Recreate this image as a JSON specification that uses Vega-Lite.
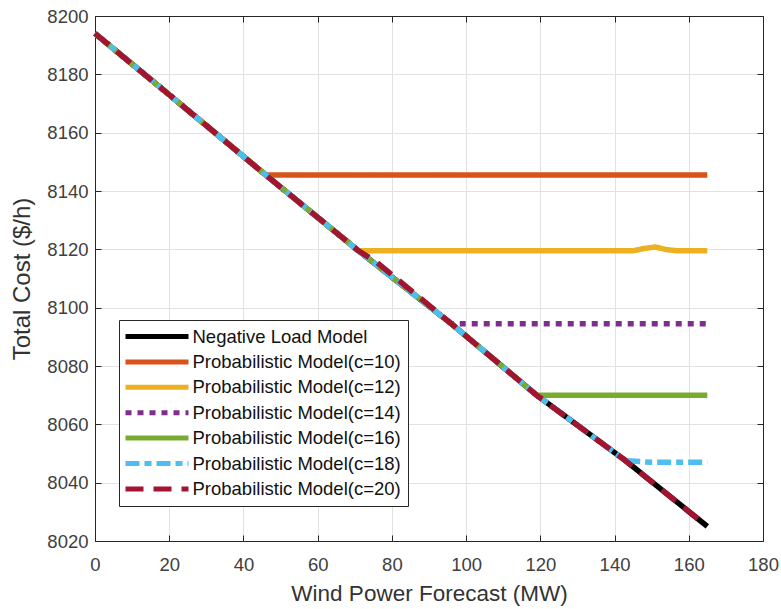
{
  "$schema": "https://vega.github.io/schema/vega-lite/v6.json",
  "width": 668,
  "height": 525,
  "autosize": {"type": "none"},
  "padding": {"left": 95, "top": 16, "right": 18, "bottom": 68},
  "background": "white",
  "config": {
    "font": "Liberation Sans",
    "view": {"stroke": "#262626", "strokeWidth": 1},
    "axis": {
      "labelFont": "Liberation Sans",
      "titleFont": "Liberation Sans",
      "labelFontSize": 18.5,
      "titleFontSize": 22.5,
      "titleFontWeight": "normal",
      "labelColor": "#404040",
      "titleColor": "#333333",
      "domainColor": "#262626",
      "tickColor": "#262626",
      "gridColor": "#e2e2e2",
      "labelFlush": false,
      "labelOverlap": false
    },
    "legend": {
      "labelFont": "Liberation Sans",
      "labelFontSize": 18.5,
      "labelColor": "#111111"
    }
  },
  "datasets": {
    "lines": [
      {"series": "Negative Load Model", "x": 0, "y": 8194},
      {"series": "Negative Load Model", "x": 20, "y": 8173},
      {"series": "Negative Load Model", "x": 46, "y": 8145.5},
      {"series": "Negative Load Model", "x": 71, "y": 8119.5},
      {"series": "Negative Load Model", "x": 96, "y": 8094.5},
      {"series": "Negative Load Model", "x": 119, "y": 8070},
      {"series": "Negative Load Model", "x": 143, "y": 8047.5},
      {"series": "Negative Load Model", "x": 165, "y": 8025},

      {"series": "Probabilistic Model(c=10)", "x": 0, "y": 8194},
      {"series": "Probabilistic Model(c=10)", "x": 20, "y": 8173},
      {"series": "Probabilistic Model(c=10)", "x": 46, "y": 8145.5},
      {"series": "Probabilistic Model(c=10)", "x": 165, "y": 8145.5},

      {"series": "Probabilistic Model(c=12)", "x": 0, "y": 8194},
      {"series": "Probabilistic Model(c=12)", "x": 20, "y": 8173},
      {"series": "Probabilistic Model(c=12)", "x": 46, "y": 8145.5},
      {"series": "Probabilistic Model(c=12)", "x": 71, "y": 8119.5},
      {"series": "Probabilistic Model(c=12)", "x": 145, "y": 8119.5},
      {"series": "Probabilistic Model(c=12)", "x": 148, "y": 8120.3},
      {"series": "Probabilistic Model(c=12)", "x": 151, "y": 8120.8},
      {"series": "Probabilistic Model(c=12)", "x": 154, "y": 8119.9},
      {"series": "Probabilistic Model(c=12)", "x": 157, "y": 8119.5},
      {"series": "Probabilistic Model(c=12)", "x": 165, "y": 8119.5},

      {"series": "Probabilistic Model(c=14)", "x": 0, "y": 8194},
      {"series": "Probabilistic Model(c=14)", "x": 20, "y": 8173},
      {"series": "Probabilistic Model(c=14)", "x": 46, "y": 8145.5},
      {"series": "Probabilistic Model(c=14)", "x": 71, "y": 8119.5},
      {"series": "Probabilistic Model(c=14)", "x": 96, "y": 8094.5},
      {"series": "Probabilistic Model(c=14)", "x": 165, "y": 8094.5},

      {"series": "Probabilistic Model(c=16)", "x": 0, "y": 8194},
      {"series": "Probabilistic Model(c=16)", "x": 20, "y": 8173},
      {"series": "Probabilistic Model(c=16)", "x": 46, "y": 8145.5},
      {"series": "Probabilistic Model(c=16)", "x": 71, "y": 8119.5},
      {"series": "Probabilistic Model(c=16)", "x": 96, "y": 8094.5},
      {"series": "Probabilistic Model(c=16)", "x": 119, "y": 8070},
      {"series": "Probabilistic Model(c=16)", "x": 165, "y": 8070},

      {"series": "Probabilistic Model(c=18)", "x": 0, "y": 8194},
      {"series": "Probabilistic Model(c=18)", "x": 20, "y": 8173},
      {"series": "Probabilistic Model(c=18)", "x": 46, "y": 8145.5},
      {"series": "Probabilistic Model(c=18)", "x": 71, "y": 8119.5},
      {"series": "Probabilistic Model(c=18)", "x": 96, "y": 8094.5},
      {"series": "Probabilistic Model(c=18)", "x": 119, "y": 8070},
      {"series": "Probabilistic Model(c=18)", "x": 143, "y": 8047.5},
      {"series": "Probabilistic Model(c=18)", "x": 150, "y": 8047},
      {"series": "Probabilistic Model(c=18)", "x": 165, "y": 8047},

      {"series": "Probabilistic Model(c=20)", "x": 0, "y": 8194},
      {"series": "Probabilistic Model(c=20)", "x": 20, "y": 8173},
      {"series": "Probabilistic Model(c=20)", "x": 46, "y": 8145.5},
      {"series": "Probabilistic Model(c=20)", "x": 71, "y": 8119.5},
      {"series": "Probabilistic Model(c=20)", "x": 76, "y": 8115.5},
      {"series": "Probabilistic Model(c=20)", "x": 96, "y": 8094.5},
      {"series": "Probabilistic Model(c=20)", "x": 119, "y": 8070},
      {"series": "Probabilistic Model(c=20)", "x": 143, "y": 8047.5},
      {"series": "Probabilistic Model(c=20)", "x": 163, "y": 8027}
    ],
    "frame": [{"x": 0, "y": 8020}]
  },
  "layer": [
    {
      "data": {"name": "lines"},
      "mark": {"type": "line", "strokeWidth": 5.5, "strokeCap": "butt", "strokeJoin": "round"},
      "encoding": {
        "x": {
          "field": "x", "type": "quantitative",
          "scale": {"domain": [0, 180], "nice": false, "zero": false},
          "axis": {
            "orient": "bottom",
            "title": "Wind Power Forecast (MW)",
            "values": [0, 20, 40, 60, 80, 100, 120, 140, 160, 180],
            "format": "d",
            "grid": true,
            "tickSize": -6,
            "labelPadding": 20,
            "titlePadding": 9
          }
        },
        "y": {
          "field": "y", "type": "quantitative",
          "scale": {"domain": [8020, 8200], "nice": false, "zero": false},
          "axis": {
            "orient": "left",
            "title": "Total Cost ($/h)",
            "values": [8020, 8040, 8060, 8080, 8100, 8120, 8140, 8160, 8180, 8200],
            "format": "d",
            "grid": true,
            "tickSize": -6,
            "labelPadding": 13,
            "titlePadding": 12,
            "titleFontSize": 24
          }
        },
        "color": {
          "field": "series", "type": "nominal",
          "scale": {
            "domain": ["Negative Load Model", "Probabilistic Model(c=10)", "Probabilistic Model(c=12)", "Probabilistic Model(c=14)", "Probabilistic Model(c=16)", "Probabilistic Model(c=18)", "Probabilistic Model(c=20)"],
            "range": ["#000000", "#D95319", "#EDB120", "#7E2F8E", "#77AC30", "#4DBEEE", "#A2142F"]
          },
          "legend": {
            "title": null,
            "orient": "none",
            "legendX": 24,
            "legendY": 304,
            "symbolType": "M-4.5,0H4.5",
            "symbolSize": 196,
            "symbolStrokeWidth": 5,
            "symbolOffset": 21.5,
            "labelOffset": 26,
            "rowPadding": 4.4,
            "padding": 7,
            "strokeColor": "#262626",
            "fillColor": "white",
            "labelLimit": 400
          }
        },
        "strokeDash": {
          "field": "series", "type": "nominal",
          "scale": {
            "domain": ["Negative Load Model", "Probabilistic Model(c=10)", "Probabilistic Model(c=12)", "Probabilistic Model(c=14)", "Probabilistic Model(c=16)", "Probabilistic Model(c=18)", "Probabilistic Model(c=20)"],
            "range": [[1, 0], [1, 0], [1, 0], [6, 6], [1, 0], [14, 5, 7, 5], [18, 10]]
          },
          "legend": {
            "title": null,
            "orient": "none",
            "legendX": 24,
            "legendY": 304,
            "symbolType": "M-4.5,0H4.5",
            "symbolSize": 196,
            "symbolStrokeWidth": 5,
            "symbolOffset": 21.5,
            "labelOffset": 26,
            "rowPadding": 4.4,
            "padding": 7,
            "strokeColor": "#262626",
            "fillColor": "white",
            "labelLimit": 400
          }
        }
      }
    },
    {
      "data": {"name": "frame"},
      "mark": {"type": "point", "opacity": 0},
      "encoding": {
        "x": {
          "field": "x", "type": "quantitative",
          "axis": {
            "orient": "top",
            "title": null,
            "labels": false,
            "grid": false,
            "values": [0, 20, 40, 60, 80, 100, 120, 140, 160, 180],
            "tickSize": -6
          }
        },
        "y": {
          "field": "y", "type": "quantitative",
          "axis": {
            "orient": "right",
            "title": null,
            "labels": false,
            "grid": false,
            "values": [8020, 8040, 8060, 8080, 8100, 8120, 8140, 8160, 8180, 8200],
            "tickSize": -6
          }
        }
      }
    }
  ],
  "resolve": {"axis": {"x": "independent", "y": "independent"}}
}
